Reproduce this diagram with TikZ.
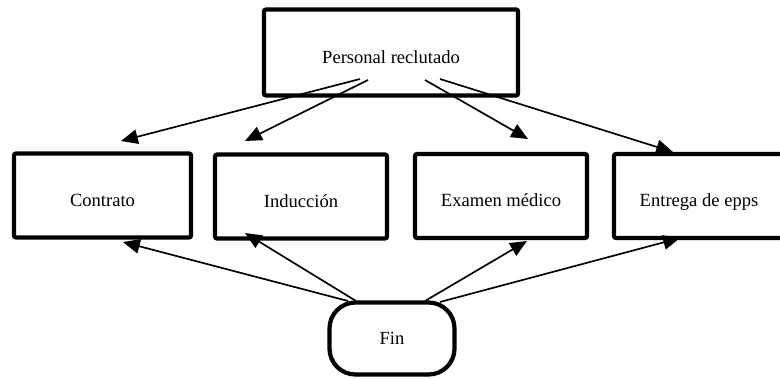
\documentclass[tikz,border=0pt]{standalone}
\usepackage{fontspec}
\setmainfont{Liberation Serif}
\usetikzlibrary{arrows.meta}
\begin{document}
\begin{tikzpicture}[x=0.025cm,y=-0.025cm,
>={Triangle[length=0.42cm,width=0.36cm]},
every node/.style={font=\fontsize{13.2}{15}\selectfont},
boxstyle/.style={draw,line width=3pt,rounded corners=1.5pt,minimum height=2.1cm,inner sep=0pt,text height=15.6pt,text depth=0pt},
endstyle/.style={draw,line width=3pt,rounded corners=0.65cm,minimum width=3.125cm,minimum height=1.8cm},
arrowstyle/.style={->,line width=1.2pt}]

\useasboundingbox (0,0) rectangle (780,379);

\node[boxstyle,minimum width=6.35cm,minimum height=2.15cm] (pr) at (391,52.5) {Personal reclutado};
\node[boxstyle,minimum width=4.425cm] (contrato) at (102.5,195.5) {Contrato};
\node[boxstyle,minimum width=4.3cm] (induccion) at (301,196.5) {Inducción};
\node[boxstyle,minimum width=4.3cm] (examen) at (501,196) {Examen médico};
\node[boxstyle,minimum width=4.25cm] (entrega) at (699,196) {Entrega de epps};
\node[endstyle] (fin) at (392,338.5) {Fin};

% salidas y llegadas
\coordinate (pr1) at (360,79);
\coordinate (pr2) at (368,80);
\coordinate (pr3) at (425,80);
\coordinate (pr4) at (440,79);
\coordinate (c1) at (121,141);
\coordinate (i1) at (245,141);
\coordinate (e1) at (528,139);
\coordinate (f1) at (673,152);

\coordinate (fin1) at (348,301);
\coordinate (fin2) at (356,301);
\coordinate (fin3) at (425,301);
\coordinate (fin4) at (440,302);
\coordinate (c2) at (123,242);
\coordinate (i2) at (245,233);
\coordinate (e2) at (527,241);
\coordinate (f2) at (680,238);

\draw[arrowstyle] (pr1) -- (c1);
\draw[arrowstyle] (pr2) -- (i1);
\draw[arrowstyle] (pr3) -- (e1);
\draw[arrowstyle] (pr4) -- (f1);

\draw[arrowstyle] (fin1) -- (c2);
\draw[arrowstyle] (fin2) -- (i2);
\draw[arrowstyle] (fin3) -- (e2);
\draw[arrowstyle] (fin4) -- (f2);
\end{tikzpicture}
\end{document}
